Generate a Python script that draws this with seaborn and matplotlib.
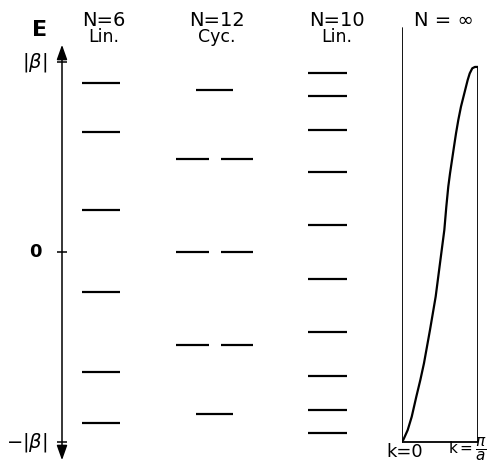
import matplotlib
matplotlib.use("Agg")
import matplotlib.pyplot as plt
import seaborn as sns
import pandas as pd
from matplotlib.patches import FancyArrowPatch

sns.set_theme(style="white")
plt.rcParams['font.family'] = ['DejaVu Sans']
plt.rcParams['mathtext.fontset'] = 'dejavusans'

# ---- data (energies in units where the top tick = |beta|) ----
n6_levels = [0.89, 0.63, 0.22, -0.21, -0.63, -0.90]
n12_levels = [0.85, 0.49, 0.0, -0.49, -0.85]
n12_degeneracy = [1, 2, 2, 2, 1]
n10_levels = [0.94, 0.82, 0.64, 0.42, 0.14, -0.14, -0.42, -0.65, -0.83, -0.95]
band_k = [0.0, 0.017, 0.075, 0.128, 0.188, 0.241, 0.289, 0.368, 0.443, 0.50,
          0.557, 0.583, 0.609, 0.632, 0.658, 0.684, 0.711, 0.741, 0.776,
          0.820, 0.864, 0.891, 0.925, 0.96, 1.0]
band_E = [-0.995, -0.989, -0.937, -0.867, -0.762, -0.674, -0.586, -0.411, -0.235, -0.059,
          0.116, 0.238, 0.344, 0.414, 0.484, 0.554, 0.625, 0.695, 0.765,
          0.835, 0.905, 0.940, 0.967, 0.974, 0.974]
tick_values = [1.0, 0.0, -1.0]
tick_labels = [r'$|\beta|$', '0', r'$-|\beta|$']
headers = [("N=6", "Lin."), ("N=12", "Cyc."), ("N=10", "Lin."), ("N = ∞", "")]

W, H = 492, 469
fig = plt.figure(figsize=(W / 100, H / 100), dpi=100)
ax = fig.add_axes([0, 0, 1, 1])
y0_px, unit_px = 252, 190
def E(ypx):
    return (y0_px - ypx) / unit_px
ax.set_xlim(0, W)
ax.set_ylim(E(H), E(0))
ax.axis('off')

lw = 1.6
# axis arrow
arr = FancyArrowPatch((62, E(463)), (62, E(42)),
                      arrowstyle='<|-|>,head_length=0.9,head_width=0.32',
                      mutation_scale=10, color='black', lw=1.1)
ax.add_patch(arr)
for v, lab in zip(tick_values, tick_labels):
    ax.hlines(v, 57, 67, color='black', lw=1.1)
    if lab == '0':
        ax.text(35, v, lab, ha='center', va='center', fontsize=13,
                fontweight='bold', color='black')
    else:
        ax.text(47, v, lab, ha='right', va='center', fontsize=14, color='black')
ax.text(40, E(30), "E", ha='center', va='center', fontsize=16,
        fontweight='bold', color='black')

# N=6 linear
ax.hlines(n6_levels, 82, 120, color='black', lw=lw)
# N=12 cyclic
for v, d in zip(n12_levels, n12_degeneracy):
    if d == 1:
        ax.hlines(v, 196, 233, color='black', lw=lw)
    else:
        ax.hlines(v, 176, 209, color='black', lw=lw)
        ax.hlines(v, 221, 253, color='black', lw=lw)
# N=10 linear
ax.hlines(n10_levels, 308, 347, color='black', lw=lw)

# headers
header_x = [104, 217, 337, 444]
for x, (top, bot) in zip(header_x, headers):
    ax.text(x, E(20), top, ha='center', va='center', fontsize=14, color='black')
    if bot:
        ax.text(x, E(37), bot, ha='center', va='center', fontsize=12.5, color='black')

# N = infinity band panel
ax2 = fig.add_axes([402 / W, 0, 76 / W, 1])
ax2.set_xlim(0, 1)
ax2.set_ylim(E(H), E(0))
ax2.axis('off')
ax2.patch.set_alpha(0)
ax2.plot([0, 0], [-1.0, E(28)], color='black', lw=1.3)
ax2.plot([1, 1], [-1.0, band_E[-1]], color='black', lw=1.3)
ax2.plot([0, 1], [-1.0, -1.0], color='black', lw=1.3)
df = pd.DataFrame({'k': band_k, 'E': band_E})
sns.lineplot(data=df, x='k', y='E', ax=ax2, sort=False, color='black', lw=1.6)
ax2.set_xlabel('')
ax2.set_ylabel('')

ax.text(405, E(452), "k=0", ha='center', va='center', fontsize=13, color='black')
ax.text(467, E(450), r'k$=\dfrac{\pi}{a}$', ha='center', va='center', fontsize=11, color='black')

fig.savefig("out.png", dpi=100)
